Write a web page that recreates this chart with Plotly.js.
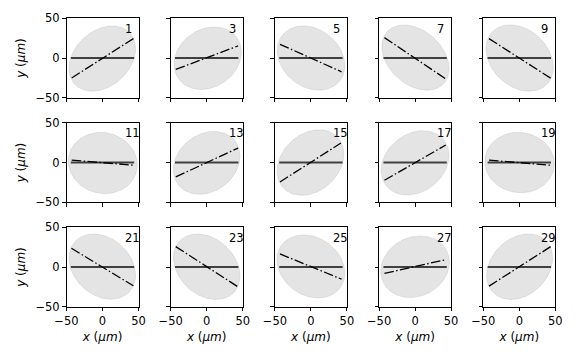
<!DOCTYPE html>
<html><head><meta charset="utf-8">
<script src="https://cdn.plot.ly/plotly-3.0.1.min.js"></script>
<style>html,body{margin:0;padding:0;background:#fff}</style>
</head><body><div id="chart" style="width:576px;height:360px"></div>
<script>
// Panel labels
const panelLabels = ['1','3','5','7','9','11','13','15','17','19','21','23','25','27','29'];
// Ellipse: centre, half extent in x, half extent in y, x-offset of topmost point (data units)
const ellCx    = [-0.3, 1.4, 0.2, 0.5, 0.5, 0.5, 0, -0.6, 0, 0.3, -0.3, 0, 0, 0, 0.5];
const ellCy    = [-0.6, -0.2, 0, 0.6, 0, -0.6, -0.4, 0, -0.4, 0, 0.6, 0.4, 0.8, 0.4, 0.4];
const ellXHalf = [46.3, 46.8, 47, 46.8, 46.8, 47.9, 46.3, 46.4, 47.2, 48.3, 46.3, 46.3, 47.2, 47.7, 45.9];
const ellYHalf = [41.1, 39.4, 40.5, 41.1, 41.8, 38.6, 39.6, 41.3, 40.5, 38, 41.1, 41.3, 39.7, 38.8, 41.3];
const ellTopX  = [14, 9, -11, -16, -13, -3, 10, 12, 11, -2, -12, -13, -10, 7, 12];
// Dash-dot line end points
const ddX0 = [-42.8, -43, -43, -42.6, -42.1, -42.8, -43, -43, -42.6, -42.1, -43.2, -43, -43, -42.6, -42.1];
const ddY0 = [-25, -14.3, 17.3, 25.7, 24.4, 3, -18.1, -24.4, -22.3, 3, 23.6, 25.7, 16.5, -8, -24];
const ddX1 = [42.9, 43.5, 42.6, 41.7, 43.6, 42.9, 43.5, 41.7, 42.6, 42.6, 42.9, 43.5, 42.6, 40.7, 43.6];
const ddY1 = [24.4, 15.2, -17.3, -25.7, -25.3, -3.3, 18.2, 24.5, 22, -3.3, -23.6, -24.9, -15.2, 8.9, 25.7];
// Solid horizontal reference line
const hLineX = [-44, 44];
const hLineY = [0, 0];
// Ticks
const tickVals = [-50, 0, 50];
const tickText = ['\u221250', '0', '50'];

const W = 576, H = 360;
const colLeft = [66.5, 170.7, 274.9, 379.1, 483.3], colW = 72;
const rowTop = [18.3, 122.8, 227.3], rowH = 79.5;

const traces = [];
const layout = {
  width: W, height: H, margin: {l:0, r:0, t:0, b:0}, showlegend: false,
  paper_bgcolor: 'white', plot_bgcolor: 'white',
  font: {family: 'DejaVu Sans', size: 11, color: 'black'},
  annotations: []
};

for (let i = 0; i < 15; i++) {
  const r = Math.floor(i / 5), c = i % 5, n = i + 1;
  const sfx = n === 1 ? '' : String(n);
  const xa = 'x' + sfx, ya = 'y' + sfx;
  const phi = Math.asin(ellTopX[i] / ellXHalf[i]);
  const ex = [], ey = [];
  for (let k = 0; k <= 200; k++) {
    const t = 2 * Math.PI * k / 200;
    ex.push(ellCx[i] + ellXHalf[i] * Math.cos(t));
    ey.push(ellCy[i] + ellYHalf[i] * Math.sin(t + phi));
  }
  traces.push({x: ex, y: ey, xaxis: xa, yaxis: ya, mode: 'lines', fill: 'toself',
    fillcolor: 'rgba(0,0,0,0.105)', line: {color: 'rgba(0,0,0,0.08)', width: 1}, hoverinfo: 'skip'});
  traces.push({x: hLineX, y: hLineY, xaxis: xa, yaxis: ya, mode: 'lines',
    line: {color: '#404040', width: 2}, hoverinfo: 'skip'});
  traces.push({x: [ddX0[i], ddX1[i]], y: [ddY0[i], ddY1[i]], xaxis: xa, yaxis: ya, mode: 'lines',
    line: {color: 'black', width: 1.3, dash: '9.6px,2.4px,1.5px,2.4px'}, hoverinfo: 'skip'});

  const axCommon = {range: [-50, 50], showline: true, mirror: true, linecolor: 'black', linewidth: 1,
    ticks: 'outside', ticklen: 3.5, tickwidth: 1, tickcolor: 'black',
    tickmode: 'array', tickvals: tickVals, ticktext: tickText,
    showgrid: false, zeroline: false, fixedrange: true, tickfont: {size: 11.5}};
  const xaxis = Object.assign({}, axCommon, {
    domain: [colLeft[c] / W, (colLeft[c] + colW) / W], anchor: ya,
    showticklabels: r === 2
  });
  if (r === 2) xaxis.title = {text: '<i>x</i> (<i>\u03bcm</i>)', font: {size: 12}, standoff: 5};
  const yaxis = Object.assign({}, axCommon, {
    domain: [1 - (rowTop[r] + rowH) / H, 1 - rowTop[r] / H], anchor: xa,
    showticklabels: c === 0
  });
  if (c === 0) yaxis.title = {text: '<i>y</i> (<i>\u03bcm</i>)', font: {size: 12}, standoff: 7};
  layout['xaxis' + sfx] = xaxis;
  layout['yaxis' + sfx] = yaxis;
  layout.annotations.push({text: panelLabels[i], xref: xa + ' domain', yref: ya + ' domain',
    x: 0.78, y: 0.98, xanchor: 'left', yanchor: 'top', showarrow: false, font: {size: 11.5}});
}

Plotly.newPlot('chart', traces, layout, {displayModeBar: false, staticPlot: true});
</script>
</body></html>
